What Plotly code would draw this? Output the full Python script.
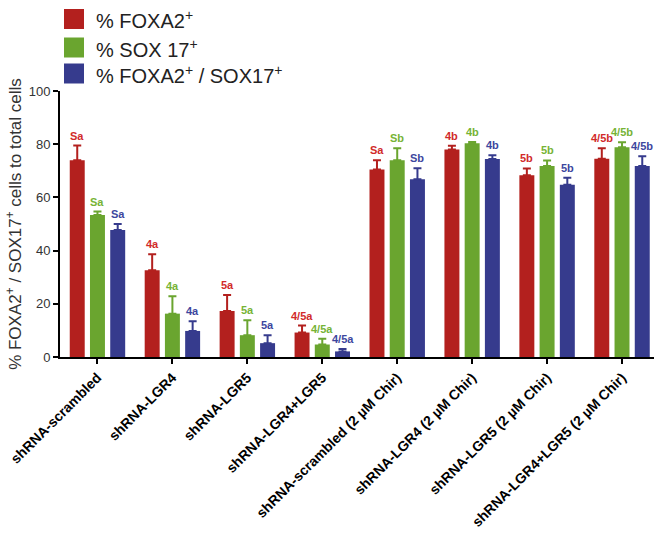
import plotly.graph_objects as go

categories = ["shRNA-scrambled", "shRNA-LGR4", "shRNA-LGR5", "shRNA-LGR4+LGR5",
              "shRNA-scrambled (2 µM Chir)", "shRNA-LGR4 (2 µM Chir)",
              "shRNA-LGR5 (2 µM Chir)", "shRNA-LGR4+LGR5 (2 µM Chir)"]

series_names = ["% FOXA2<sup>+</sup>", "% SOX 17<sup>+</sup>", "% FOXA2<sup>+</sup> / SOX17<sup>+</sup>"]

foxa2 = [74.0, 32.6, 17.3, 9.2, 70.5, 78.0, 68.3, 74.5]
foxa2_err = [5.5, 6.0, 6.0, 2.6, 3.5, 1.4, 2.6, 4.0]
sox17 = [53.4, 16.3, 8.2, 4.7, 74.0, 80.4, 71.8, 78.9]
sox17_err = [1.3, 6.5, 5.6, 2.2, 4.5, 0.4, 2.1, 1.8]
double = [47.7, 9.8, 5.2, 2.1, 66.8, 74.4, 64.8, 71.8]
double_err = [2.3, 3.6, 3.0, 0.9, 4.2, 1.4, 2.6, 3.7]

foxa2_labels = ["Sa", "4a", "5a", "4/5a", "Sa", "4b", "5b", "4/5b"]
sox17_labels = ["Sa", "4a", "5a", "4/5a", "Sb", "4b", "5b", "4/5b"]
double_labels = ["Sa", "4a", "5a", "4/5a", "Sb", "4b", "5b", "4/5b"]

bar_colors = ["#B3201E", "#6AA52F", "#363B8D"]
label_colors = ["#D12A2A", "#76B336", "#3C469E"]

values = [foxa2, sox17, double]
errors = [foxa2_err, sox17_err, double_err]
labels = [foxa2_labels, sox17_labels, double_labels]

W, H = 654, 555
L, R, T, B = 60, 0, 91, 198
BARGAP = 0.19
slot = (1 - BARGAP) / 3

xs = list(range(len(categories)))
fig = go.Figure()
for k in range(3):
    fig.add_trace(go.Bar(
        x=xs, y=values[k], name=series_names[k],
        marker=dict(color=bar_colors[k], line=dict(width=0)),
        error_y=dict(type="data", array=errors[k], arrayminus=[0]*len(xs), symmetric=False,
                     color=bar_colors[k], thickness=2, width=4),
        showlegend=False,
    ))

annotations = []
for k in range(3):
    for i in xs:
        annotations.append(dict(
            x=i + (k - 1) * slot, y=values[k][i] + errors[k][i], xref="x", yref="y",
            text="<b>%s</b>" % labels[k][i], showarrow=False, yanchor="bottom", yshift=2,
            font=dict(family="Liberation Sans, Arial, sans-serif", size=11, color=label_colors[k]),
        ))

# custom legend (pixel positions converted to paper coords)
pw, ph = W - L - R, H - T - B
def px(xp):
    return (xp - L) / pw
def py(yp):
    return (H - B - yp) / ph

shapes = []
leg_centers = [19, 47.5, 73.5]
for k in range(3):
    c = leg_centers[k]
    shapes.append(dict(type="rect", xref="paper", yref="paper",
                       x0=px(64), x1=px(84), y0=py(c + 10), y1=py(c - 10),
                       fillcolor=bar_colors[k], line=dict(width=0)))
    annotations.append(dict(x=px(94), y=py(c + 1), xref="paper", yref="paper",
                            text=series_names[k], showarrow=False, xanchor="left", yanchor="middle",
                            font=dict(family="Liberation Sans, Arial, sans-serif", size=20, color="#222")))

fig.update_layout(
    width=W, height=H,
    margin=dict(l=L, r=R, t=T, b=B, pad=0),
    plot_bgcolor="white", paper_bgcolor="white",
    barmode="group", bargap=BARGAP, bargroupgap=0.26,
    font=dict(family="Liberation Sans, Arial, sans-serif", color="#222"),
    xaxis=dict(tickmode="array", tickvals=xs, ticktext=["<b>%s</b>" % c for c in categories],
               tickangle=-45, range=[-0.5, 7.5 - 5.5 / 75], showline=True, linecolor="black",
               linewidth=2, ticks="outside", ticklen=5, tickwidth=2, tickcolor="black",
               tickfont=dict(size=14, color="black"), showgrid=False, zeroline=False),
    yaxis=dict(range=[0, 100], tickvals=[0, 20, 40, 60, 80, 100], showline=True, linecolor="black",
               linewidth=2, ticks="outside", ticklen=5, tickwidth=2, tickcolor="black",
               tickfont=dict(size=13, color="#333"), showgrid=False, zeroline=False,
               title=dict(text="% FOXA2<sup>+</sup> / SOX17<sup>+</sup> cells to total cells",
                          font=dict(size=17, color="#333"), standoff=3)),
    annotations=annotations, shapes=shapes,
)

fig.write_html("out.html")
